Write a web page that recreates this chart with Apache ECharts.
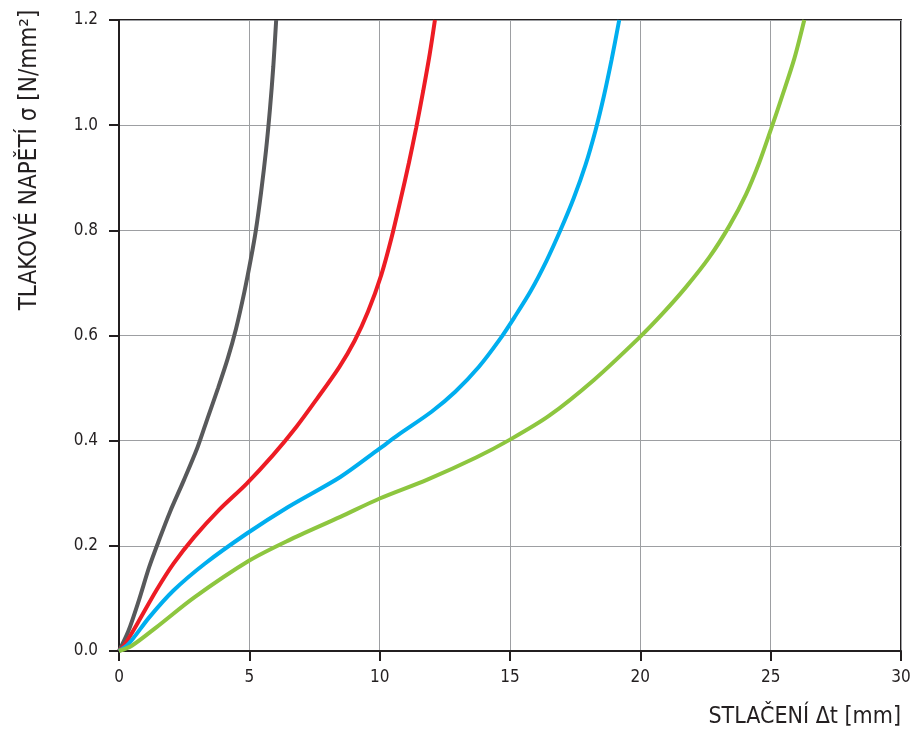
<!DOCTYPE html>
<html><head><meta charset="utf-8">
<script src="https://cdn.jsdelivr.net/npm/echarts@6/dist/echarts.min.js"></script>
<style>html,body{margin:0;padding:0;background:#fff}#c{width:914px;height:729px}</style>
</head><body><div id="c"></div>
<script>
const xTicks = [0, 5, 10, 15, 20, 25, 30];
const yTicks = [0.0, 0.2, 0.4, 0.6, 0.8, 1.0, 1.2];
const xName = 'STLAČENÍ Δt [mm]';
const yName = 'TLAKOVÉ NAPĚTÍ σ [N/mm²]';
const grayCurve = [[0,0],[0.36,0.038],[0.76,0.096],[1.16,0.160],[1.56,0.214],[1.96,0.265],[2.49,0.325],[3.01,0.387],[3.40,0.443],[3.80,0.500],[4.17,0.556],[4.49,0.613],[4.81,0.683],[5.06,0.746],[5.25,0.800],[5.45,0.872],[5.64,0.952],[5.79,1.030],[5.92,1.112],[6.03,1.200]];
const redCurve = [[0,0],[0.23,0.013],[0.76,0.057],[1.43,0.115],[2.09,0.166],[2.89,0.217],[3.83,0.268],[4.89,0.318],[5.90,0.372],[6.80,0.426],[7.60,0.480],[8.45,0.540],[9.04,0.590],[9.55,0.645],[10.06,0.715],[10.45,0.785],[10.80,0.858],[11.12,0.928],[11.40,0.995],[11.67,1.065],[11.92,1.135],[12.12,1.200]];
const blueCurve = [[0,0],[0.36,0.013],[1.16,0.064],[2.09,0.115],[3.29,0.166],[4.89,0.223],[6.49,0.274],[8.49,0.331],[9.97,0.384],[10.71,0.411],[11.99,0.455],[12.90,0.493],[13.80,0.540],[14.60,0.592],[15.20,0.637],[15.80,0.685],[16.40,0.742],[16.95,0.802],[17.45,0.862],[17.90,0.925],[18.28,0.990],[18.60,1.055],[18.90,1.125],[19.19,1.200]];
const greenCurve = [[0,0],[0.49,0.010],[1.43,0.045],[2.89,0.102],[5.00,0.172],[6.49,0.210],[8.49,0.255],[10.00,0.290],[11.83,0.326],[13.70,0.368],[15.00,0.402],[16.49,0.447],[18.23,0.516],[19.96,0.596],[20.86,0.642],[21.75,0.692],[22.65,0.749],[23.41,0.808],[24.05,0.868],[24.57,0.930],[25.01,0.992],[25.46,1.058],[25.91,1.127],[26.29,1.200]];

const FONT = '"DejaVu Sans Condensed", "Liberation Sans Narrow", sans-serif';
const chart = echarts.init(document.getElementById('c'), null, {renderer:'canvas'});
function line(name, data, color){
  return {name, type:'line', data, showSymbol:false, smooth:0.3, lineStyle:{color, width:4}, itemStyle:{color}, z:3, clip:true};
}
chart.setOption({
  animation:false,
  backgroundColor:'#fff',
  grid:{left:119, right:13, top:20, bottom:78, show:true, borderColor:'#231f20', borderWidth:2, backgroundColor:'transparent'},
  xAxis:{type:'value', min:xTicks[0], max:xTicks[xTicks.length-1], interval:5,
    axisLine:{show:true, lineStyle:{color:'#231f20', width:2}},
    axisTick:{show:true, inside:false, length:10, lineStyle:{color:'#231f20', width:2}},
    axisLabel:{color:'#231f20', fontSize:17, fontFamily:FONT, margin:18},
    splitLine:{show:true, lineStyle:{color:'#9d9fa2', width:1}}},
  yAxis:{type:'value', min:yTicks[0], max:yTicks[yTicks.length-1], interval:0.2,
    axisLine:{show:true, lineStyle:{color:'#231f20', width:2}},
    axisTick:{show:true, inside:false, length:10, lineStyle:{color:'#231f20', width:2}},
    axisLabel:{color:'#231f20', fontSize:17, fontFamily:FONT, margin:21, formatter:v=>v.toFixed(1)},
    splitLine:{show:true, lineStyle:{color:'#9d9fa2', width:1}}},
  graphic:[
    {type:'text', x:30, y:160, rotation:Math.PI/2, style:{text:yName, fill:'#231f20', font:'24px '+FONT, textAlign:'center', textVerticalAlign:'middle'}},
    {type:'text', x:901, y:717, style:{text:xName, fill:'#231f20', font:'23px '+FONT, textAlign:'right', textVerticalAlign:'middle'}}
  ],
  series:[
    line('gray', grayCurve, '#58595b'),
    line('red', redCurve, '#ed1c24'),
    line('blue', blueCurve, '#00aeef'),
    line('green', greenCurve, '#8dc63f')
  ]
});
</script></body></html>
